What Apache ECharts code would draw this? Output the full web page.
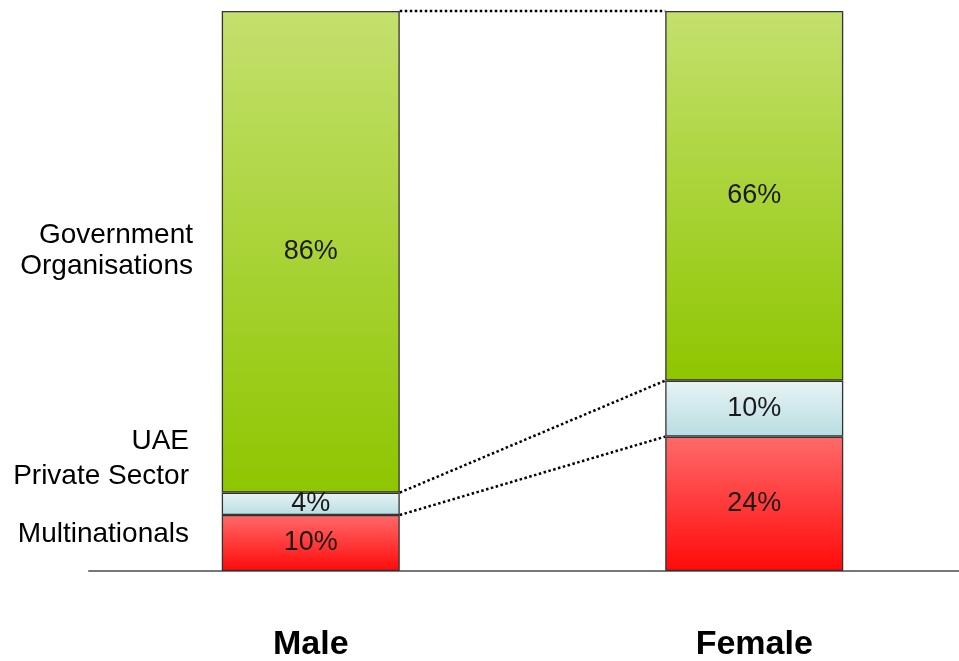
<!DOCTYPE html>
<html>
<head>
<meta charset="utf-8">
<script src="https://cdn.jsdelivr.net/npm/echarts@6/dist/echarts.min.js"></script>
<style>
  html, body { margin: 0; padding: 0; background: #fff; }
  #chart { width: 959px; height: 661px; }
</style>
</head>
<body>
<div id="chart"></div>
<script>
// Employment sector split by gender (percent of each group)
const categories = ['Male', 'Female'];
const multinationals = [10, 24];
const uaePrivate = [4, 10];
const government = [86, 66];
const sectorNames = ['Multinationals', 'UAE Private Sector', 'Government Organisations'];

const FONT = '"Liberation Sans", Arial, sans-serif';
const BAR_W = 178;

function grad(top, bottom) {
  return new echarts.graphic.LinearGradient(0, 0, 0, 1, [
    { offset: 0, color: top },
    { offset: 1, color: bottom }
  ]);
}

const valueLabel = {
  show: true,
  position: 'inside',
  formatter: p => p.value + '%',
  color: '#1a1a1a',
  fontFamily: FONT,
  fontSize: 27
};

// Cumulative stack tops used by the dotted series lines between bars
const tops = [];
{
  const stacks = [multinationals, uaePrivate, government];
  const run = [0, 0];
  stacks.forEach(s => {
    run[0] += s[0];
    run[1] += s[1];
    tops.push([run[0], run[1]]);
  });
}

const chart = echarts.init(document.getElementById('chart'));

function barSeries(name, data, color) {
  return {
    name, type: 'bar', stack: 'total', data,
    barWidth: BAR_W,
    itemStyle: { color, borderColor: '#333', borderWidth: 1.3 },
    label: valueLabel,
    emphasis: { disabled: true }
  };
}

// Side captions, one text per line, right-aligned against the male bar
const captionLines = [
  ['Government', 193, 235], ['Organisations', 193, 266],
  ['UAE', 189, 441], ['Private Sector', 189, 476],
  ['Multinationals', 189, 534]
];

chart.setOption({
  animation: false,
  grid: { left: 89, width: 887, top: 11, height: 560, outerBoundsMode: 'none', containLabel: false },
  xAxis: {
    type: 'category',
    data: categories,
    axisLine: { lineStyle: { color: '#777', width: 2 } },
    axisTick: { show: false },
    axisLabel: {
      color: '#000', fontFamily: FONT, fontWeight: 'bold', fontSize: 34, margin: 57
    }
  },
  yAxis: {
    type: 'value', min: 0, max: 100,
    show: false, splitLine: { show: false }
  },
  series: [
    barSeries(sectorNames[0], multinationals, grad('#ff6a6a', '#ff0a0a')),
    barSeries(sectorNames[1], uaePrivate, grad('#e8f3f5', '#b8dde1')),
    barSeries(sectorNames[2], government, grad('#c4e06e', '#8ec600')),
    {
      type: 'custom',
      data: tops,
      silent: true,
      z: 5,
      renderItem: (params, api) => {
        const half = BAR_W / 2;
        const a = api.coord([0, api.value(0)]);
        const b = api.coord([1, api.value(1)]);
        return {
          type: 'line',
          shape: { x1: a[0] + half, y1: a[1], x2: b[0] - half, y2: b[1] },
          style: { stroke: '#000', lineWidth: 2.5, lineDash: [2.5, 2.5] }
        };
      }
    }
  ],
  graphic: captionLines.map(([text, x, y]) => ({
    type: 'text', x, y,
    style: { text, font: '28px ' + FONT, fill: '#000', align: 'right', verticalAlign: 'middle' }
  }))
});
</script>
</body>
</html>
